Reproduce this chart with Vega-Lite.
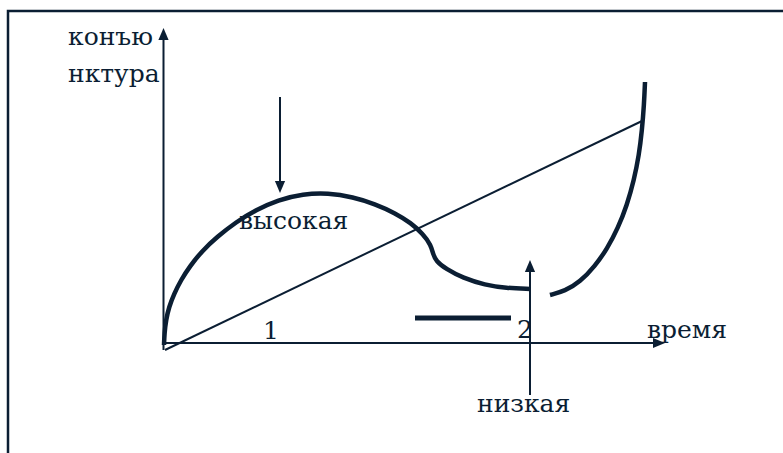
{
  "$schema": "https://vega.github.io/schema/vega-lite/v6.json",
  "width": 783,
  "height": 453,
  "autosize": {"type": "fit", "contains": "padding"},
  "padding": 0,
  "background": "white",
  "config": {"view": {"stroke": null}},
  "datasets": {
    "frame": [{"x": -31.0, "x2": 130, "y": 66.4, "y2": -30}],
    "thin": [
      {"name": "ось конъюнктуры", "x": 0.1, "y": -1.4, "x2": 0.1, "y2": 61.8},
      {"name": "ось времени", "x": 0, "y": 0, "x2": 99.2, "y2": 0},
      {"name": "тренд", "x": 0.4, "y": -1.4, "x2": 95.8, "y2": 44.4},
      {"name": "стрелка высокая", "x": 23.4, "y": 49.2, "x2": 23.4, "y2": 31.2},
      {"name": "стрелка низкая", "x": 73.4, "y": -10.4, "x2": 73.4, "y2": 15.4}
    ],
    "thick": [{"name": "отрезок", "x": 50.4, "y": 5.0, "x2": 69.6, "y2": 5.0}],
    "curve": [
      {"seg": "A", "i": 1, "x": 0.2, "y": -0.4},
      {"seg": "A", "i": 2, "x": 0.3, "y": 2.0},
      {"seg": "A", "i": 3, "x": 0.6, "y": 4.6},
      {"seg": "A", "i": 4, "x": 1.2, "y": 7.2},
      {"seg": "A", "i": 5, "x": 2.2, "y": 9.8},
      {"seg": "A", "i": 6, "x": 3.6, "y": 12.6},
      {"seg": "A", "i": 7, "x": 5.4, "y": 15.4},
      {"seg": "A", "i": 8, "x": 7.8, "y": 18.4},
      {"seg": "A", "i": 9, "x": 10.8, "y": 21.2},
      {"seg": "A", "i": 10, "x": 14.6, "y": 24.2},
      {"seg": "A", "i": 11, "x": 18.6, "y": 26.6},
      {"seg": "A", "i": 12, "x": 23.0, "y": 28.6},
      {"seg": "A", "i": 13, "x": 28.0, "y": 29.8},
      {"seg": "A", "i": 14, "x": 33.0, "y": 30.0},
      {"seg": "A", "i": 15, "x": 38.0, "y": 29.2},
      {"seg": "A", "i": 16, "x": 42.4, "y": 27.8},
      {"seg": "A", "i": 17, "x": 46.4, "y": 26.0},
      {"seg": "A", "i": 18, "x": 49.6, "y": 24.0},
      {"seg": "A", "i": 19, "x": 52.0, "y": 21.8},
      {"seg": "A", "i": 20, "x": 53.6, "y": 19.6},
      {"seg": "A", "i": 21, "x": 54.0, "y": 17.8},
      {"seg": "A", "i": 22, "x": 54.6, "y": 16.4},
      {"seg": "A", "i": 23, "x": 56.6, "y": 14.8},
      {"seg": "A", "i": 24, "x": 60.0, "y": 13.0},
      {"seg": "A", "i": 25, "x": 64.4, "y": 11.6},
      {"seg": "A", "i": 26, "x": 68.6, "y": 11.0},
      {"seg": "A", "i": 27, "x": 73.4, "y": 10.8},
      {"seg": "B", "i": 1, "x": 77.4, "y": 9.6},
      {"seg": "B", "i": 2, "x": 80.4, "y": 10.4},
      {"seg": "B", "i": 3, "x": 83.4, "y": 12.2},
      {"seg": "B", "i": 4, "x": 86.4, "y": 15.4},
      {"seg": "B", "i": 5, "x": 88.8, "y": 18.8},
      {"seg": "B", "i": 6, "x": 91.0, "y": 23.0},
      {"seg": "B", "i": 7, "x": 92.8, "y": 27.6},
      {"seg": "B", "i": 8, "x": 94.2, "y": 32.6},
      {"seg": "B", "i": 9, "x": 95.2, "y": 37.6},
      {"seg": "B", "i": 10, "x": 95.8, "y": 42.6},
      {"seg": "B", "i": 11, "x": 96.2, "y": 47.6},
      {"seg": "B", "i": 12, "x": 96.4, "y": 52.2}
    ],
    "heads": [
      {"dir": "up", "x": 0.1, "y": 61.8},
      {"dir": "right", "x": 99.2, "y": 0},
      {"dir": "down", "x": 23.4, "y": 31.2},
      {"dir": "up", "x": 73.4, "y": 15.4}
    ],
    "labels": [
      {"text": "конъю", "x": -19.0, "y": 59.6},
      {"text": "нктура", "x": -19.0, "y": 52.2},
      {"text": "высокая", "x": 15.2, "y": 22.8},
      {"text": "1", "x": 20.0, "y": 0.8},
      {"text": "2", "x": 70.8, "y": 1.0},
      {"text": "время", "x": 96.8, "y": 1.0},
      {"text": "низкая", "x": 62.8, "y": -13.8}
    ]
  },
  "layer": [
    {
      "data": {"name": "frame"},
      "mark": {"type": "rect", "filled": false, "stroke": "#0b1e33", "strokeWidth": 2.5, "clip": true},
      "encoding": {
        "x": {"field": "x", "type": "quantitative", "scale": {"domain": [-32.6, 124], "nice": false, "zero": false}, "axis": null},
        "x2": {"field": "x2"},
        "y": {"field": "y", "type": "quantitative", "scale": {"domain": [-22, 68.6], "nice": false, "zero": false}, "axis": null},
        "y2": {"field": "y2"}
      }
    },
    {
      "data": {"name": "thin"},
      "mark": {"type": "rule", "stroke": "#0b1e33", "strokeWidth": 2},
      "encoding": {
        "x": {"field": "x", "type": "quantitative"},
        "x2": {"field": "x2"},
        "y": {"field": "y", "type": "quantitative"},
        "y2": {"field": "y2"}
      }
    },
    {
      "data": {"name": "thick"},
      "mark": {"type": "rule", "stroke": "#0b1e33", "strokeWidth": 5},
      "encoding": {
        "x": {"field": "x", "type": "quantitative"},
        "x2": {"field": "x2"},
        "y": {"field": "y", "type": "quantitative"},
        "y2": {"field": "y2"}
      }
    },
    {
      "data": {"name": "curve"},
      "mark": {"type": "line", "stroke": "#0b1e33", "strokeWidth": 4.5, "interpolate": "basis", "strokeCap": "butt"},
      "encoding": {
        "x": {"field": "x", "type": "quantitative"},
        "y": {"field": "y", "type": "quantitative"},
        "detail": {"field": "seg"},
        "order": {"field": "i", "type": "quantitative"}
      }
    },
    {
      "data": {"name": "heads"},
      "mark": {"type": "point", "filled": true, "fill": "#0b1e33", "stroke": null, "opacity": 1, "size": 144},
      "encoding": {
        "x": {"field": "x", "type": "quantitative"},
        "y": {"field": "y", "type": "quantitative"},
        "shape": {
          "field": "dir",
          "type": "nominal",
          "scale": {"domain": ["up", "down", "right"], "range": ["M0,-1L-0.85,1L0.85,1Z", "M0,1L-0.85,-1L0.85,-1Z", "M1,0L-1,-0.85L-1,0.85Z"]},
          "legend": null
        }
      }
    },
    {
      "data": {"name": "labels"},
      "mark": {"type": "text", "align": "left", "baseline": "alphabetic", "font": "DejaVu Serif", "fontSize": 25, "fill": "#0b1e33"},
      "encoding": {
        "x": {"field": "x", "type": "quantitative"},
        "y": {"field": "y", "type": "quantitative"},
        "text": {"field": "text"}
      }
    }
  ]
}
